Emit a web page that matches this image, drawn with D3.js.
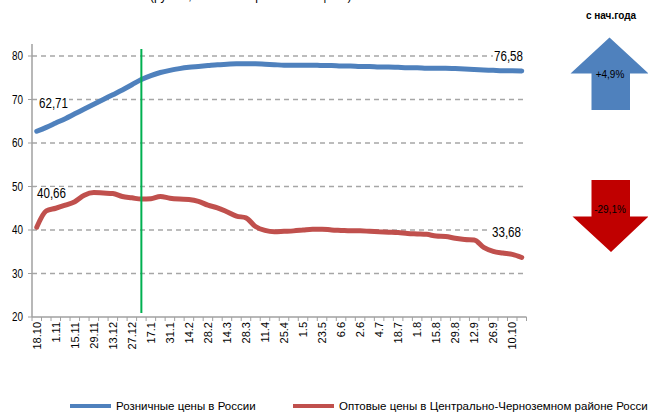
<!DOCTYPE html>
<html>
<head>
<meta charset="utf-8">
<script src="https://cdn.jsdelivr.net/npm/d3@7"></script>
<style>
  body { margin: 0; background: #fff; }
  svg { display: block; }
</style>
</head>
<body>
<div id="chart"></div>
<script>
// weekly dates, every other one is labelled on the axis
const dates = [
  "18.10", "25.10", "1.11", "8.11", "15.11", "22.11", "29.11", "6.12", "13.12", "20.12",
  "27.12", "10.1", "17.1", "24.1", "31.1", "7.2", "14.2", "21.2", "28.2", "7.3",
  "14.3", "21.3", "28.3", "4.4", "11.4", "18.4", "25.4", "28.4", "1.5", "16.5",
  "23.5", "30.5", "6.6", "13.6", "2.6", "27.6", "4.7", "11.7", "18.7", "25.7",
  "1.8", "8.8", "15.8", "22.8", "29.8", "5.9", "12.9", "19.9", "26.9", "3.10",
  "10.10", "17.10"
];

const retail = [
  62.71, 63.6, 64.6, 65.6, 66.7, 67.8, 68.9, 70.0, 71.1, 72.2,
  73.4, 74.6, 75.5, 76.2, 76.7, 77.1, 77.4, 77.6, 77.8, 78.0,
  78.1, 78.2, 78.2, 78.2, 78.1, 78.0, 77.9, 77.9, 77.9, 77.9,
  77.8, 77.8, 77.7, 77.7, 77.6, 77.6, 77.5, 77.5, 77.4, 77.3,
  77.3, 77.2, 77.2, 77.2, 77.1, 77.0, 76.9, 76.8, 76.7, 76.6,
  76.6, 76.58
];

const wholesale = [
  40.66, 44.4, 45.0, 45.7, 46.5, 48.0, 48.6, 48.5, 48.4, 47.7,
  47.4, 47.1, 47.2, 47.7, 47.3, 47.1, 47.0, 46.6, 45.7, 45.1,
  44.2, 43.2, 42.8, 40.8, 39.9, 39.6, 39.7, 39.8, 40.0, 40.2,
  40.2, 40.0, 39.9, 39.8, 39.8, 39.7, 39.6, 39.5, 39.4, 39.2,
  39.1, 39.0, 38.6, 38.5, 38.1, 37.8, 37.7, 36.0, 35.1, 34.7,
  34.4, 33.68
];

const yTicks = [20, 30, 40, 50, 60, 70, 80];
const seriesNames = ["Розничные цены в России", "Оптовые цены в Центрально-Черноземном районе России"];
const changes = ["+4,9%", "-29,1%"];
const markerDate = "10.1";

const W = 648, H = 414;
const plotL = 32, plotR = 526.5, plotT = 56, plotB = 317;

const svg = d3.select("#chart").append("svg")
  .attr("width", W)
  .attr("height", H)
  .attr("viewBox", [0, 0, W, H]);

const x = d3.scaleBand().domain(dates).range([plotL, plotR]).padding(0);
const y = d3.scaleLinear().domain([20, 80]).range([plotB, plotT]);
const cx = d => x(d) + x.bandwidth() / 2;

const numFont = "'Liberation Sans Narrow', 'Liberation Sans', Arial, sans-serif";
const axisFont = "'Liberation Sans', Arial, sans-serif";

// title, mostly cut off above the picture
svg.append("text")
  .attr("x", 150).attr("y", 0)
  .attr("font-family", axisFont).attr("font-size", 12)
  .text("(руб./кг, оптовые и розничные цены)");

// gridlines
svg.append("g").selectAll("line")
  .data(yTicks.filter(d => d > 20))
  .join("line")
  .attr("x1", plotL).attr("x2", plotR)
  .attr("y1", d => y(d)).attr("y2", d => y(d))
  .attr("stroke", "#a6a6a6")
  .attr("stroke-width", 1.5)
  .attr("stroke-dasharray", "5,4");

// y axis
const yAxis = svg.append("g");
yAxis.append("line")
  .attr("x1", plotL).attr("x2", plotL)
  .attr("y1", 44).attr("y2", plotB)
  .attr("stroke", "#a0a0a0").attr("stroke-width", 1.5);
yAxis.selectAll("line.tick")
  .data(yTicks)
  .join("line")
  .attr("class", "tick")
  .attr("x1", plotL - 4).attr("x2", plotL)
  .attr("y1", d => y(d)).attr("y2", d => y(d))
  .attr("stroke", "#a0a0a0").attr("stroke-width", 1);
yAxis.selectAll("text")
  .data(yTicks)
  .join("text")
  .attr("x", 23).attr("y", d => y(d) + 4)
  .attr("text-anchor", "end")
  .attr("font-family", numFont).attr("font-size", 12)
  .attr("textLength", 11).attr("lengthAdjust", "spacingAndGlyphs")
  .attr("fill", "#000")
  .text(d => d);

// x axis
const xAxis = svg.append("g");
xAxis.append("line")
  .attr("x1", plotL).attr("x2", plotR)
  .attr("y1", plotB).attr("y2", plotB)
  .attr("stroke", "#a0a0a0").attr("stroke-width", 1.5);
xAxis.selectAll("line.tick")
  .data(dates.concat(["end"]))
  .join("line")
  .attr("class", "tick")
  .attr("x1", (d, i) => plotL + i * x.bandwidth())
  .attr("x2", (d, i) => plotL + i * x.bandwidth())
  .attr("y1", plotB).attr("y2", plotB + 4)
  .attr("stroke", "#a0a0a0").attr("stroke-width", 1);
xAxis.selectAll("text")
  .data(dates.filter((d, i) => i % 2 === 0))
  .join("text")
  .attr("transform", d => `translate(${cx(d) + 4},322) rotate(-90)`)
  .attr("text-anchor", "end")
  .attr("font-family", axisFont).attr("font-size", 11)
  .attr("fill", "#000")
  .text(d => d);

// lines
const line = d3.line()
  .x((d, i) => cx(dates[i]))
  .y(d => y(d))
  .curve(d3.curveMonotoneX);

svg.append("path")
  .datum(wholesale)
  .attr("d", line)
  .attr("fill", "none")
  .attr("stroke", "#c0504d")
  .attr("stroke-width", 5)
  .attr("stroke-linecap", "round");

svg.append("path")
  .datum(retail)
  .attr("d", line)
  .attr("fill", "none")
  .attr("stroke", "#4f81bd")
  .attr("stroke-width", 5)
  .attr("stroke-linecap", "round");

// green marker at the new year
svg.append("line")
  .attr("x1", cx(markerDate)).attr("x2", cx(markerDate))
  .attr("y1", 49).attr("y2", 313)
  .attr("stroke", "#00b050").attr("stroke-width", 2);

// data labels at the ends
const fmt = v => v.toFixed(2).replace(".", ",");
const endLabels = [
  { v: retail[0], x: 39, y: 108 },
  { v: retail[retail.length - 1], x: 494, y: 61 },
  { v: wholesale[0], x: 37, y: 198 },
  { v: wholesale[wholesale.length - 1], x: 492, y: 237 }
];
const lab = svg.append("g").selectAll("g").data(endLabels).join("g");
lab.append("rect")
  .attr("x", d => d.x - 1).attr("y", d => d.y - 11)
  .attr("width", 31).attr("height", 14)
  .attr("fill", "#fff");
lab.append("text")
  .attr("x", d => d.x).attr("y", d => d.y)
  .attr("font-family", numFont).attr("font-size", 14)
  .attr("textLength", 29).attr("lengthAdjust", "spacingAndGlyphs")
  .attr("fill", "#000")
  .text(d => fmt(d.v));

// year-to-date arrows
svg.append("text")
  .attr("x", 611).attr("y", 19)
  .attr("text-anchor", "middle")
  .attr("font-family", numFont).attr("font-size", 10).attr("font-weight", "bold")
  .text("с нач.года");

svg.append("path")
  .attr("d", "M609.5,37.5 L648.5,73.5 L630,73.5 L630,110 L591.5,110 L591.5,73.5 L570.5,73.5 Z")
  .attr("fill", "#4f81bd");
svg.append("text")
  .attr("x", 610).attr("y", 78)
  .attr("text-anchor", "middle")
  .attr("font-family", numFont).attr("font-size", 10)
  .text(changes[0]);

svg.append("path")
  .attr("d", "M591.5,180 L630,180 L630,216.5 L648.5,216.5 L611,252 L572.5,216.5 L591.5,216.5 Z")
  .attr("fill", "#c00000");
svg.append("text")
  .attr("x", 610).attr("y", 213)
  .attr("text-anchor", "middle")
  .attr("font-family", numFont).attr("font-size", 10)
  .text(changes[1]);

// legend
const legend = [
  { name: seriesNames[0], color: "#4f81bd", x: 70 },
  { name: seriesNames[1], color: "#c0504d", x: 293 }
];
const lg = svg.append("g").selectAll("g").data(legend).join("g");
lg.append("line")
  .attr("x1", d => d.x).attr("x2", d => d.x + 41)
  .attr("y1", 406).attr("y2", 406)
  .attr("stroke", d => d.color).attr("stroke-width", 4);
lg.append("text")
  .attr("x", d => d.x + 46).attr("y", 410)
  .attr("font-family", axisFont).attr("font-size", 11.5)
  .attr("fill", "#000")
  .text(d => d.name);
</script>
</body>
</html>
